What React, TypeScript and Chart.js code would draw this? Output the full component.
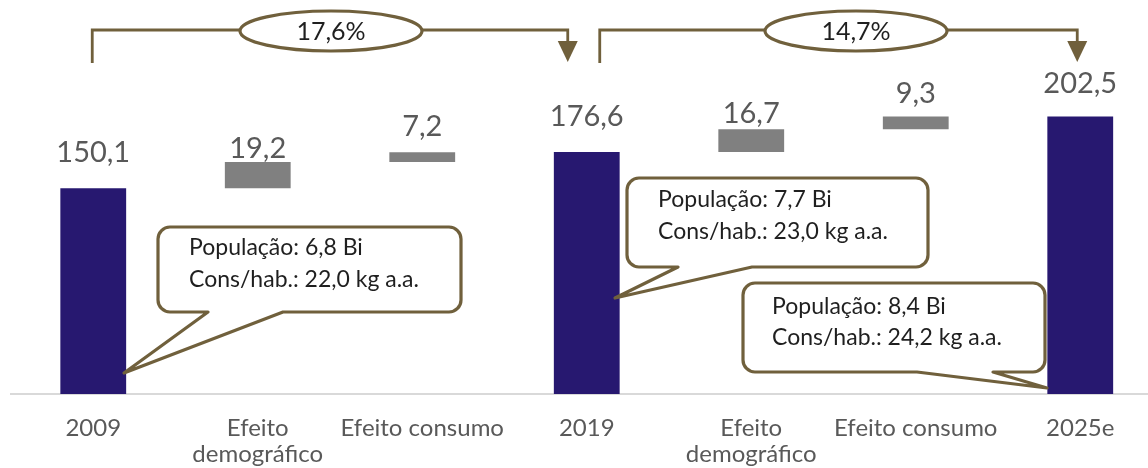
import React, { useEffect, useRef } from 'react';
import Chart from 'chart.js/auto';

// ---- data ----
const categories: (string | string[])[] = [
  '2009',
  ['Efeito', 'demográfico'],
  'Efeito consumo',
  '2019',
  ['Efeito', 'demográfico'],
  'Efeito consumo',
  '2025e',
];
const values = [150.1, 19.2, 7.2, 176.6, 16.7, 9.3, 202.5];
const isTotal = [true, false, false, true, false, false, true];
const growthLabels = ['17,6%', '14,7%'];
const calloutTexts = [
  ['População: 6,8 Bi', 'Cons/hab.: 22,0 kg a.a.'],
  ['População: 7,7 Bi', 'Cons/hab.: 23,0 kg a.a.'],
  ['População: 8,4 Bi', 'Cons/hab.: 24,2 kg a.a.'],
];

// ---- styles ----
const NAVY = '#271870';
const GREY = '#808080';
const BROWN = '#70603c';
const LABEL_GAP = [26, 4, 16, 26, 6, 13, 24];

const CALLOUTS = [
  { x1: 158, y1: 227, x2: 461, y2: 312, a: 208, b: 283, tip: [124, 373], tx: 189, ty: [248, 280] },
  { x1: 627, y1: 178, x2: 928, y2: 267, a: 678, b: 752, tip: [615, 298], tx: 658, ty: [200, 232] },
  { x1: 743, y1: 283, x2: 1045, y2: 372, a: 917, b: 993, tip: [1047, 388], tx: 772, ty: [307, 338] },
];

function fmt(v: number) {
  return v.toFixed(1).replace('.', ',');
}

function buildFloating() {
  let run = 0;
  return values.map((v, i) => {
    if (isTotal[i]) {
      run = v;
      return [0, v];
    }
    const s = run;
    run = run + v;
    return [s, run];
  });
}

function drawCallout(ctx: CanvasRenderingContext2D, c: any, lines: string[]) {
  const r = 12;
  const { x1, y1, x2, y2, a, b, tip } = c;
  ctx.save();
  ctx.beginPath();
  ctx.moveTo(x1 + r, y1);
  ctx.lineTo(x2 - r, y1);
  ctx.arcTo(x2, y1, x2, y1 + r, r);
  ctx.lineTo(x2, y2 - r);
  ctx.arcTo(x2, y2, x2 - r, y2, r);
  ctx.lineTo(b, y2);
  ctx.lineTo(tip[0], tip[1]);
  ctx.lineTo(a, y2);
  ctx.lineTo(x1 + r, y2);
  ctx.arcTo(x1, y2, x1, y2 - r, r);
  ctx.lineTo(x1, y1 + r);
  ctx.arcTo(x1, y1, x1 + r, y1, r);
  ctx.closePath();
  ctx.fillStyle = '#ffffff';
  ctx.fill();
  ctx.lineWidth = 3.2;
  ctx.lineJoin = 'round';
  ctx.strokeStyle = BROWN;
  ctx.stroke();
  ctx.fillStyle = '#1f1f1f';
  ctx.font = '23px Lato';
  ctx.textAlign = 'left';
  ctx.textBaseline = 'middle';
  lines.forEach((t, i) => ctx.fillText(t, c.tx, c.ty[i]));
  ctx.restore();
}

function drawBracket(ctx: CanvasRenderingContext2D, xl: number, xr: number, ex: number, label: string) {
  const y = 30;
  ctx.save();
  ctx.strokeStyle = BROWN;
  ctx.fillStyle = BROWN;
  ctx.lineWidth = 2.8;
  ctx.beginPath();
  ctx.moveTo(xl, 63);
  ctx.lineTo(xl, y);
  ctx.lineTo(xr, y);
  ctx.lineTo(xr, 42);
  ctx.stroke();
  ctx.beginPath();
  ctx.moveTo(xr - 10, 41);
  ctx.lineTo(xr + 10, 41);
  ctx.lineTo(xr, 62);
  ctx.closePath();
  ctx.fill();
  // ellipse
  ctx.beginPath();
  ctx.ellipse(ex, y + 1, 91, 20, 0, 0, Math.PI * 2);
  ctx.fillStyle = '#ffffff';
  ctx.fill();
  ctx.lineWidth = 3.2;
  ctx.stroke();
  ctx.fillStyle = '#1f1f1f';
  ctx.font = '25px Lato';
  ctx.textAlign = 'center';
  ctx.textBaseline = 'middle';
  ctx.fillText(label, ex, y + 2);
  ctx.restore();
}

const overlay = {
  id: 'overlay',
  afterDatasetsDraw(chart: any) {
    const ctx: CanvasRenderingContext2D = chart.ctx;
    const meta = chart.getDatasetMeta(0);
    // value labels
    ctx.save();
    ctx.fillStyle = '#595959';
    ctx.font = '29px Lato';
    ctx.textAlign = 'center';
    ctx.textBaseline = 'alphabetic';
    meta.data.forEach((bar: any, i: number) => {
      const top = Math.min(bar.y, bar.base);
      ctx.fillText(fmt(values[i]), bar.x, top - LABEL_GAP[i]);
    });
    ctx.restore();
    const xs = chart.scales.x;
    const c0 = xs.getPixelForValue(0);
    const c3 = xs.getPixelForValue(3);
    const c6 = xs.getPixelForValue(6);
    drawBracket(ctx, c0 - 1, c3 - 19, 331, growthLabels[0]);
    drawBracket(ctx, c3 + 13, c6 - 3, 856, growthLabels[1]);
    CALLOUTS.forEach((c, i) => drawCallout(ctx, c, calloutTexts[i]));
  },
};

export default function App() {
  const ref = useRef<HTMLCanvasElement>(null);
  useEffect(() => {
    if (!ref.current) return;
    const chart = new Chart(ref.current, {
      type: 'bar',
      data: {
        labels: categories as any,
        datasets: [
          {
            data: buildFloating() as any,
            backgroundColor: isTotal.map((t) => (t ? NAVY : GREY)),
            borderWidth: 0,
            barPercentage: 0.4,
            categoryPercentage: 1,
          },
        ],
      },
      options: {
        responsive: false,
        animation: false,
        devicePixelRatio: 1,
        layout: { padding: { left: 11, right: 7.5, top: 0, bottom: 0 } },
        plugins: {
          legend: { display: false },
          tooltip: { enabled: false },
        },
        scales: {
          x: {
            offset: true,
            grid: { display: false, drawTicks: false },
            border: { display: true, color: '#d9d9d9', width: 2 },
            ticks: {
              autoSkip: false,
              maxRotation: 0,
              minRotation: 0,
              padding: 21,
              color: '#595959',
              font: { family: 'Lato', size: 24, lineHeight: '26px' as any },
            },
          },
          y: { display: false, min: 0, max: 287.6 },
        },
      },
      plugins: [overlay],
    });
    return () => chart.destroy();
  }, []);
  return (
    <div
      style={{
        position: 'fixed',
        left: 0,
        top: 0,
        width: 1148,
        height: 468,
        overflow: 'hidden',
        background: '#ffffff',
      }}
    >
      <canvas ref={ref} width={1170} height={488} style={{ display: 'block' }} />
    </div>
  );
}
